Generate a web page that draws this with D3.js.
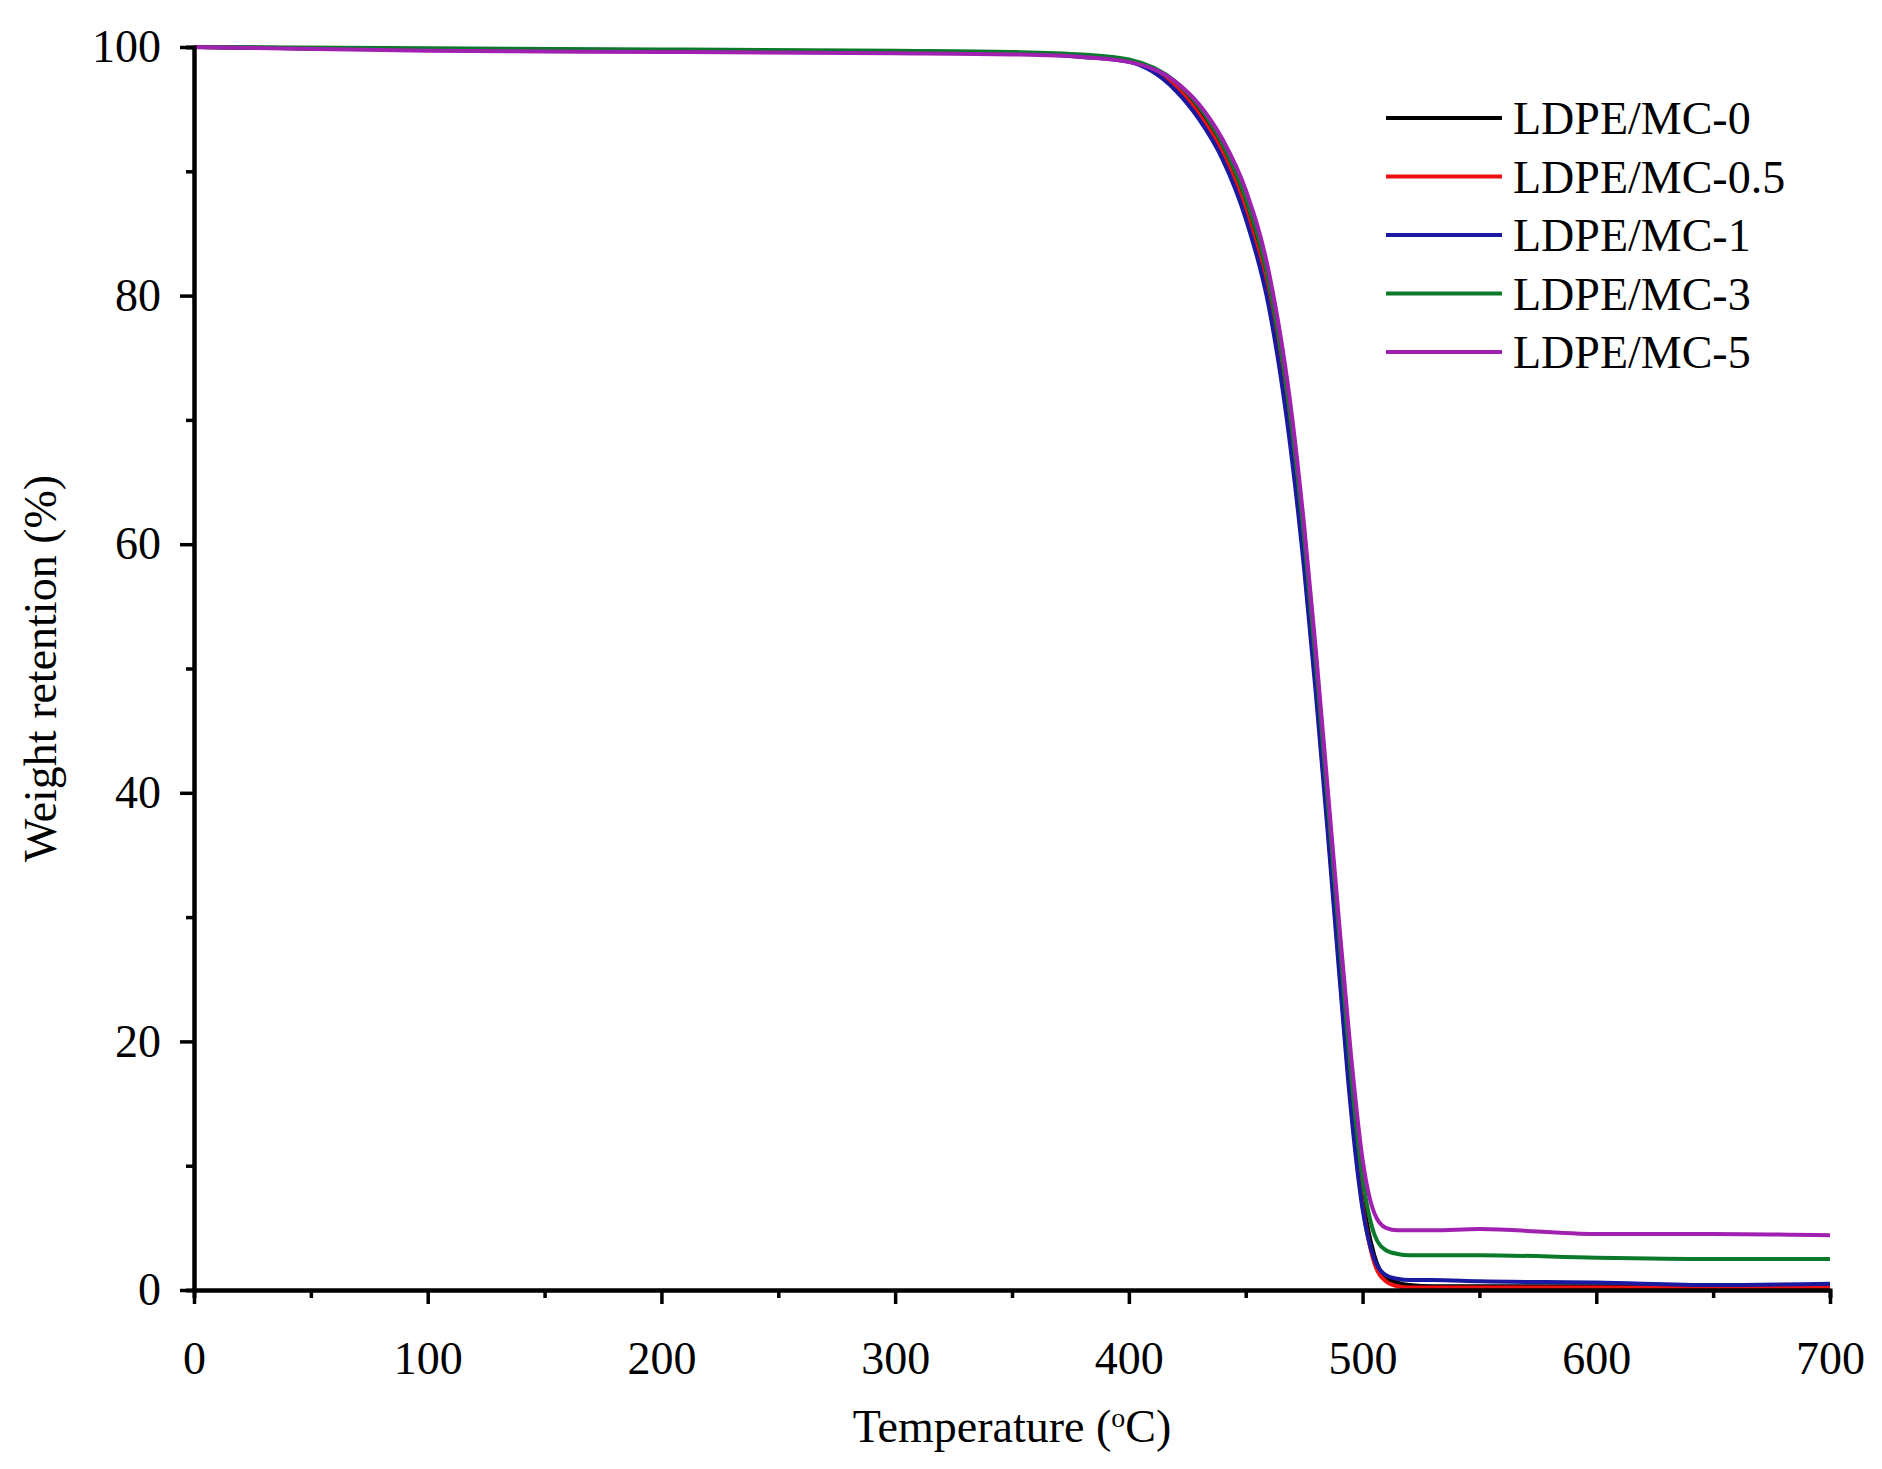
<!DOCTYPE html>
<html><head><meta charset="utf-8">
<script src="https://cdn.jsdelivr.net/npm/d3@7"></script>
<style>body{margin:0;background:#fff}</style></head>
<body><svg id="chart" width="1882" height="1469"></svg>
<script>
var temps = [0, 100, 200, 300, 350, 380, 400, 420, 430, 440, 450, 460, 470, 475, 480, 485, 490, 495, 500, 505, 510, 515, 520, 530, 550, 600, 650, 700];
var mc0 = [100, 99.8, 99.7, 99.6, 99.5, 99.3, 98.9, 97.0, 95.0, 92.0, 87.5, 80.5, 68.0, 59.5, 49.5, 38.5, 27.0, 16.0, 7.5, 2.8, 1.0, 0.6, 0.4, 0.3, 0.3, 0.3, 0.3, 0.3];
var mc05 = [100, 99.8, 99.7, 99.6, 99.5, 99.3, 98.9, 96.8, 94.6, 91.5, 86.8, 79.5, 67.0, 58.5, 48.5, 37.5, 26.0, 15.0, 6.8, 2.2, 0.7, 0.3, 0.2, 0.2, 0.2, 0.2, 0.2, 0.2];
var mc1 = [100, 99.8, 99.7, 99.6, 99.5, 99.2, 98.8, 96.5, 94.2, 91.0, 86.2, 79.0, 66.5, 58.0, 48.0, 37.0, 25.5, 14.5, 6.5, 2.5, 1.2, 0.9, 0.8, 0.8, 0.7, 0.6, 0.4, 0.5];
var mc3 = [100, 99.9, 99.8, 99.7, 99.6, 99.4, 99.0, 97.2, 95.2, 92.2, 87.8, 81.0, 69.0, 60.5, 50.5, 39.5, 28.5, 17.5, 9.0, 4.5, 3.2, 2.9, 2.8, 2.8, 2.8, 2.6, 2.5, 2.5];
var mc5 = [100, 99.7, 99.6, 99.5, 99.4, 99.2, 98.8, 97.2, 95.4, 92.6, 88.5, 81.8, 70.0, 61.5, 51.5, 40.5, 29.5, 19.0, 10.5, 6.2, 5.0, 4.8, 4.8, 4.8, 4.9, 4.5, 4.5, 4.4];
var seriesNames = ['LDPE/MC-0', 'LDPE/MC-0.5', 'LDPE/MC-1', 'LDPE/MC-3', 'LDPE/MC-5'];
var seriesColors = ['#000000', '#ee1111', '#1a1aa0', '#0a7a2a', '#a020b0'];
var xTicks = [0, 100, 200, 300, 400, 500, 600, 700];
var yTicks = [0, 20, 40, 60, 80, 100];

var allSeries = [mc0, mc05, mc1, mc3, mc5];
var svg = d3.select('#chart');
var font = '"Liberation Serif", "DejaVu Serif", serif';
var x = d3.scaleLinear().domain([0, 700]).range([194, 1830]);
var y = d3.scaleLinear().domain([0, 100]).range([1290, 47]);

var line = d3.line().x(function (d) { return x(d[0]); }).y(function (d) { return y(d[1]); }).curve(d3.curveMonotoneX);
allSeries.forEach(function (s, i) {
	svg.append('path')
		.datum(temps.map(function (t, j) { return [t, s[j]]; }))
		.attr('d', line).attr('fill', 'none')
		.attr('stroke', seriesColors[i]).attr('stroke-width', 4);
});

var xAxis = svg.append('g').attr('transform', 'translate(0,' + y(0) + ')')
	.call(d3.axisBottom(x).tickValues(xTicks).tickSize(14).tickSizeOuter(0));
xAxis.append('g').call(d3.axisBottom(x).tickValues(d3.range(50, 700, 100)).tickSize(8).tickFormat(''));
var yAxis = svg.append('g').attr('transform', 'translate(' + x(0) + ',0)')
	.call(d3.axisLeft(y).tickValues(yTicks).tickSize(14).tickSizeOuter(0));
yAxis.append('g').call(d3.axisLeft(y).tickValues(d3.range(10, 100, 20)).tickSize(8).tickFormat(''));
svg.selectAll('.domain').attr('stroke', '#000').attr('stroke-width', 4);
svg.selectAll('.tick line').attr('stroke', '#000').attr('stroke-width', 3.5);
svg.selectAll('.tick text').attr('font-family', font).attr('font-size', 46).attr('fill', '#000');
xAxis.selectAll('.tick text').attr('dy', '1.45em');
yAxis.selectAll('.tick text').attr('dx', '-0.35em');

svg.append('text').attr('x', x(350)).attr('y', 1442).attr('text-anchor', 'middle')
	.attr('font-family', font).attr('font-size', 46)
	.html('Temperature (<tspan baseline-shift="super" font-size="28">o</tspan>C)');
svg.append('text').attr('transform', 'translate(56,' + y(50) + ') rotate(-90)').attr('text-anchor', 'middle')
	.attr('font-family', font).attr('font-size', 46).text('Weight retention (%)');

seriesNames.forEach(function (n, i) {
	var ly = 118 + i * 58.5;
	svg.append('line').attr('x1', 1386).attr('x2', 1502).attr('y1', ly).attr('y2', ly)
		.attr('stroke', seriesColors[i]).attr('stroke-width', 4);
	svg.append('text').attr('x', 1513).attr('y', ly + 16).attr('font-family', font)
		.attr('font-size', 46).text(n);
});
</script></body></html>
